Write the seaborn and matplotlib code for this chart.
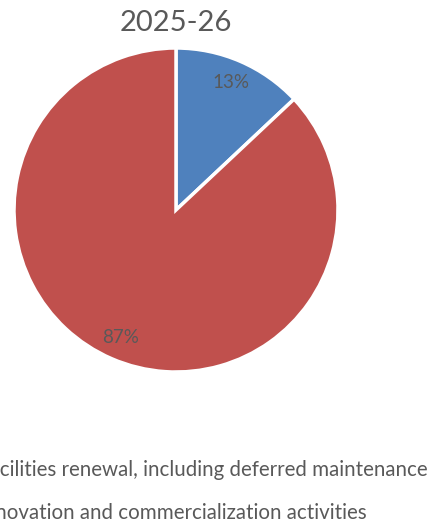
import matplotlib
matplotlib.use("Agg")
import matplotlib.pyplot as plt
import matplotlib.patches as mpatches
import seaborn as sns

# data
categories = ["Facilities renewal, including deferred maintenance",
              "Innovation and commercialization activities"]
shares = [13, 87]
colours = ["#4F81BD", "#C0504D"]
year = "2025-26"

sns.set_theme(style="white")
plt.rcParams['font.family'] = ['Lato', 'DejaVu Sans']
grey = "#595959"

fig = plt.figure(figsize=(4.28, 5.23), dpi=100)
ax = fig.add_axes([14/428, 151/523, 324/428, 324/523])

wedges, texts, pcts = ax.pie(shares, colors=colours, startangle=90, counterclock=False,
                             autopct='%1.0f%%', pctdistance=0.86,
                             wedgeprops=dict(edgecolor='white', linewidth=2.5),
                             textprops=dict(color=grey, fontsize=13.5))
ax.set_xlim(-1, 1)
ax.set_ylim(-1, 1)
ax.set_aspect('equal')
ax.axis('off')

fig.text(176/428, 1 - 23/523, year, ha='center', va='center', fontsize=21, color=grey)

handles = [mpatches.Patch(color=c, label=l) for c, l in zip(colours, categories)]
leg = fig.legend(handles=handles, loc='upper left', bbox_to_anchor=(-55/428, 1 - 452/523),
                 frameon=False, fontsize=14.8, labelspacing=1.12, handlelength=0.7,
                 handleheight=0.7, handletextpad=0.5, borderaxespad=0)
for t in leg.get_texts():
    t.set_color(grey)

fig.savefig("out.png", dpi=100)
